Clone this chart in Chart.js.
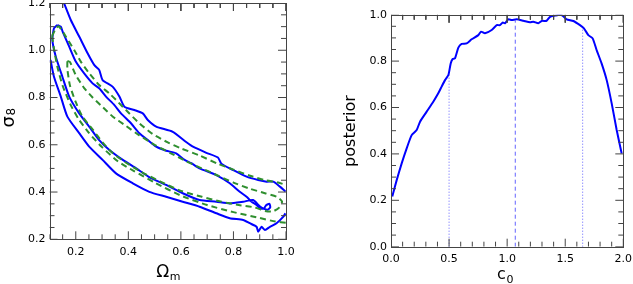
<!DOCTYPE html>
<html>
<head>
<meta charset="UTF-8">
<script src="https://cdn.jsdelivr.net/npm/chart.js"></script>
<style>
  body { margin: 0; background: #fff; }
  #wrap { position: relative; width: 633px; height: 284px; }
  canvas { position: absolute; top: 0; }
  #left { left: 0; }
  #right { left: 320px; }
</style>
</head>
<body>
<div id="wrap">
  <canvas id="left" width="320" height="284"></canvas>
  <canvas id="right" width="313" height="284"></canvas>
</div>
<script>
// left panel: sigma8 vs Omega_m contours
const omTicks = [0.2, 0.4, 0.6, 0.8, 1.0];
const s8Ticks = [0.2, 0.4, 0.6, 0.8, 1.0, 1.2];

const blueOuterUpperX = [0.155, 0.181, 0.213, 0.245, 0.270, 0.289, 0.302, 0.340, 0.366, 0.385, 0.423, 0.455, 0.474, 0.506, 0.569, 0.620, 0.646, 0.697, 0.741, 0.754, 0.799, 0.850, 0.894, 0.926, 0.952, 0.977, 0.998];
const blueOuterUpperY = [1.200, 1.128, 1.058, 0.987, 0.938, 0.917, 0.874, 0.846, 0.804, 0.761, 0.747, 0.733, 0.705, 0.677, 0.655, 0.612, 0.592, 0.566, 0.546, 0.520, 0.493, 0.465, 0.451, 0.444, 0.444, 0.423, 0.402];

const blueOuterLowerX = [0.104, 0.117, 0.143, 0.168, 0.213, 0.251, 0.302, 0.353, 0.417, 0.480, 0.544, 0.607, 0.671, 0.735, 0.786, 0.837, 0.862, 0.888, 0.894, 0.907, 0.920, 0.939, 0.964, 0.990, 0.998];
const blueOuterLowerY = [0.959, 0.888, 0.804, 0.719, 0.649, 0.592, 0.536, 0.479, 0.437, 0.401, 0.380, 0.359, 0.338, 0.310, 0.289, 0.282, 0.268, 0.253, 0.232, 0.253, 0.239, 0.253, 0.268, 0.296, 0.310];

const blueInnerX = [0.130, 0.143, 0.150, 0.175, 0.200, 0.232, 0.264, 0.289, 0.315, 0.347, 0.372, 0.410, 0.442, 0.474, 0.506, 0.544, 0.582, 0.614, 0.640, 0.671, 0.735, 0.786, 0.824, 0.850, 0.869, 0.888, 0.901, 0.915, 0.925, 0.937, 0.940, 0.930, 0.915, 0.900, 0.875, 0.837, 0.786, 0.735, 0.671, 0.607, 0.544, 0.481, 0.430, 0.379, 0.328, 0.289, 0.251, 0.213, 0.175, 0.149, 0.124, 0.111, 0.117, 0.130];
const blueInnerY = [1.107, 1.100, 1.079, 1.015, 0.952, 0.902, 0.860, 0.839, 0.804, 0.768, 0.733, 0.691, 0.649, 0.620, 0.592, 0.575, 0.564, 0.536, 0.522, 0.500, 0.472, 0.437, 0.401, 0.380, 0.359, 0.345, 0.331, 0.330, 0.345, 0.350, 0.335, 0.325, 0.330, 0.340, 0.366, 0.359, 0.352, 0.359, 0.366, 0.395, 0.430, 0.462, 0.500, 0.536, 0.578, 0.620, 0.677, 0.733, 0.804, 0.888, 0.973, 1.043, 1.093, 1.107];

const greenOuterX = [0.110, 0.125, 0.136, 0.162, 0.194, 0.219, 0.251, 0.289, 0.327, 0.353, 0.391, 0.442, 0.493, 0.55, 0.60, 0.67, 0.74, 0.80, 0.86, 0.92, 0.97, 1.0];
const greenOuterY = [1.060, 1.095, 1.101, 1.058, 1.001, 0.952, 0.903, 0.853, 0.818, 0.790, 0.747, 0.691, 0.645, 0.610, 0.585, 0.555, 0.520, 0.495, 0.470, 0.450, 0.440, 0.430];
const greenOuterLowX = [0.110, 0.118, 0.13, 0.15, 0.18, 0.21, 0.25, 0.30, 0.36, 0.42, 0.50, 0.60, 0.70, 0.80, 0.90, 0.96, 1.0];
const greenOuterLowY = [1.060, 1.000, 0.930, 0.850, 0.770, 0.710, 0.650, 0.590, 0.530, 0.490, 0.440, 0.385, 0.345, 0.315, 0.290, 0.275, 0.270];

const greenInnerX = [0.168, 0.178, 0.200, 0.232, 0.264, 0.302, 0.340, 0.391, 0.442, 0.50, 0.56, 0.62, 0.68, 0.74, 0.80, 0.86, 0.92, 0.965, 0.985, 0.975, 0.950, 0.920, 0.880, 0.82, 0.75, 0.68, 0.60, 0.52, 0.45, 0.39, 0.34, 0.302, 0.264, 0.225, 0.200, 0.178, 0.168, 0.168];
const greenInnerY = [0.955, 0.950, 0.895, 0.840, 0.800, 0.760, 0.720, 0.680, 0.640, 0.600, 0.565, 0.530, 0.500, 0.470, 0.440, 0.415, 0.395, 0.380, 0.360, 0.335, 0.318, 0.320, 0.335, 0.345, 0.360, 0.380, 0.405, 0.445, 0.485, 0.525, 0.565, 0.610, 0.665, 0.720, 0.780, 0.850, 0.920, 0.955];

// right panel: posterior of c0
const c0Ticks = [0.0, 0.5, 1.0, 1.5, 2.0];
const postTicks = [0.0, 0.2, 0.4, 0.6, 0.8, 1.0];
const c0 = [0.011, 0.049, 0.092, 0.135, 0.178, 0.221, 0.250, 0.307, 0.364, 0.407, 0.436, 0.465, 0.494, 0.514, 0.531, 0.551, 0.580, 0.608, 0.651, 0.694, 0.752, 0.775, 0.809, 0.867, 0.910, 0.938, 0.961, 0.981, 1.010, 1.039, 1.082, 1.139, 1.197, 1.225, 1.268, 1.297, 1.340, 1.369, 1.412, 1.455, 1.483, 1.512, 1.570, 1.627, 1.661, 1.699, 1.736, 1.770, 1.813, 1.857, 1.900, 1.943, 1.986];
const posterior = [0.216, 0.287, 0.359, 0.424, 0.481, 0.503, 0.539, 0.582, 0.625, 0.661, 0.690, 0.718, 0.740, 0.790, 0.809, 0.812, 0.858, 0.874, 0.876, 0.894, 0.912, 0.927, 0.920, 0.934, 0.955, 0.955, 0.966, 0.963, 0.980, 0.977, 0.980, 0.974, 0.967, 0.970, 0.963, 0.973, 0.974, 0.991, 0.996, 1.000, 0.994, 0.980, 0.973, 0.955, 0.941, 0.912, 0.898, 0.848, 0.790, 0.718, 0.618, 0.503, 0.402];
const markX = [0.5, 1.07, 1.65];
const markTop = [0.752, 0.975, 0.948];
const markDash = [[1, 2], [4, 3], [1, 2]];

const FONT = 'DejaVu Sans';

// frame / minor tick / title settings per canvas (plotW/plotH = plot area in px)
const panelCfg = {
  left: {
    xMin: 0.1, xMax: 1.0, xMinor: 0.05, xMajor: 0.2,
    yMin: 0.2, yMax: 1.2, yMinor: 0.05, yMajor: 0.2,
    plotW: 236.5, plotH: 236.3,
    titles: [
      { main: '\u03A9', sub: 'm', x: 168, y: 277, size: 17, subSize: 11, drop: 3 },
      { main: '\u03C3', sub: '8', x: 14, y: 118, size: 18, subSize: 12, drop: 1, rot: -Math.PI / 2 }
    ]
  },
  right: {
    xMin: 0, xMax: 2.0, xMinor: 0.1, xMajor: 0.5,
    yMin: 0, yMax: 1.0, yMinor: 0.05, yMajor: 0.2,
    plotW: 232.3, plotH: 232,
    titles: [
      { main: 'c', sub: '0', x: 185, y: 279, size: 16, subSize: 11, drop: 4 },
      { main: 'posterior', sub: '', x: 35, y: 131, size: 16, subSize: 11, drop: 0, rot: -Math.PI / 2 }
    ]
  }
};

function pts(xs, ys) {
  return xs.map((v, i) => ({ x: v, y: ys[i] }));
}

function isMajor(v, step) {
  const r = v / step;
  return Math.abs(r - Math.round(r)) < 1e-6;
}

// inward tick marks on all four sides, as line datasets broken by null points
function tickSets(o) {
  const ux = (o.xMax - o.xMin) / o.plotW, uy = (o.yMax - o.yMin) / o.plotH;
  const bottom = [], top = [], left = [], right = [];
  const nx = Math.round((o.xMax - o.xMin) / o.xMinor);
  for (let i = 0; i <= nx; i++) {
    const v = o.xMin + i * o.xMinor;
    const len = isMajor(v, o.xMajor) ? 8 : 5;
    bottom.push({ x: v, y: o.yMin }, { x: v, y: o.yMin + len * uy }, { x: v, y: null });
    top.push({ x: v, y: o.yMax }, { x: v, y: o.yMax - len * uy }, { x: v, y: null });
  }
  const ny = Math.round((o.yMax - o.yMin) / o.yMinor);
  for (let i = 0; i <= ny; i++) {
    const v = o.yMin + i * o.yMinor;
    const len = isMajor(v, o.yMajor) ? 8 : 5;
    left.push({ x: o.xMin, y: v }, { x: o.xMin + len * ux, y: v }, { x: o.xMin, y: null });
    right.push({ x: o.xMax, y: v }, { x: o.xMax - len * ux, y: v }, { x: o.xMax, y: null });
  }
  return [bottom, top, left, right].map(d => ({
    data: d,
    showLine: true,
    spanGaps: false,
    borderColor: '#444',
    borderWidth: 1,
    pointRadius: 0,
    tension: 0
  }));
}

// draws "main" with a subscript, centred on (x, y) baseline, optionally rotated
function subText(ctx, t) {
  ctx.save();
  ctx.translate(t.x, t.y);
  if (t.rot) ctx.rotate(t.rot);
  ctx.fillStyle = '#000';
  ctx.textBaseline = 'alphabetic';
  ctx.textAlign = 'left';
  ctx.font = t.size + 'px "' + FONT + '"';
  const w1 = ctx.measureText(t.main).width;
  ctx.font = t.subSize + 'px "' + FONT + '"';
  const w2 = t.sub ? ctx.measureText(t.sub).width : 0;
  const x0 = -(w1 + w2) / 2;
  ctx.font = t.size + 'px "' + FONT + '"';
  ctx.fillText(t.main, x0, 0);
  if (t.sub) {
    ctx.font = t.subSize + 'px "' + FONT + '"';
    ctx.fillText(t.sub, x0 + w1 + 0.5, t.drop);
  }
  ctx.restore();
}

// plot frame and axis titles
const framePlugin = {
  id: 'frame',
  afterDraw(chart) {
    const o = panelCfg[chart.canvas.id];
    const ctx = chart.ctx;
    const a = chart.chartArea;
    const L = Math.round(a.left), R = Math.round(a.right);
    const T = Math.round(a.top), B = Math.round(a.bottom);
    ctx.save();
    ctx.fillStyle = '#444';
    ctx.fillRect(L, T, R - L + 1, 1);
    ctx.fillRect(L, B, R - L + 1, 1);
    ctx.fillRect(L, T, 1, B - T + 1);
    ctx.fillRect(R, T, 1, B - T + 1);
    ctx.restore();
    o.titles.forEach(t => subText(ctx, t));
  }
};

function scaleOpts(min, max, labels, fixed, isX, pad) {
  return {
    type: 'linear',
    min: min,
    max: max,
    grid: { display: false, drawTicks: false },
    border: { display: false },
    afterBuildTicks: s => { s.ticks = labels.map(v => ({ value: v })); },
    afterFit: s => {
      if (isX) s.height = fixed; else s.width = fixed;
      s.paddingTop = 0; s.paddingBottom = 0; s.paddingLeft = 0; s.paddingRight = 0;
    },
    ticks: {
      padding: pad,
      color: '#000',
      maxRotation: 0,
      autoSkip: false,
      font: { family: FONT, size: 11 },
      callback: v => Number(v).toFixed(1)
    }
  };
}

const BLUE = '#0000ff';
const GREEN = '#2f8f2f';

function curve(xs, ys, color, dash) {
  return {
    data: pts(xs, ys),
    showLine: true,
    borderColor: color,
    borderWidth: 2,
    borderDash: dash || [],
    pointRadius: 0,
    tension: 0.2,
    fill: false
  };
}

new Chart(document.getElementById('left'), {
  type: 'scatter',
  data: {
    datasets: tickSets(panelCfg.left).concat([
      curve(greenOuterX, greenOuterY, GREEN, [6, 4]),
      curve(greenOuterLowX, greenOuterLowY, GREEN, [6, 4]),
      curve(greenInnerX, greenInnerY, GREEN, [6, 4]),
      curve(blueOuterUpperX, blueOuterUpperY, BLUE),
      curve(blueOuterLowerX, blueOuterLowerY, BLUE),
      curve(blueInnerX, blueInnerY, BLUE)
    ])
  },
  options: {
    responsive: false,
    animation: false,
    layout: { padding: { top: 3, right: 34, left: 0, bottom: 0 } },
    plugins: { legend: { display: false }, tooltip: { enabled: false } },
    scales: {
      x: scaleOpts(0.1, 1.0, omTicks, 44.7, true, 6),
      y: scaleOpts(0.2, 1.2, s8Ticks, 49.5, false, 4)
    }
  },
  plugins: [framePlugin]
});

const rightSets = tickSets(panelCfg.right).concat([curve(c0, posterior, BLUE)]);
markX.forEach((v, i) => {
  rightSets.push({
    data: [{ x: v, y: 0 }, { x: v, y: markTop[i] }],
    showLine: true,
    borderColor: 'rgba(70,70,255,0.85)',
    borderWidth: 1,
    borderDash: markDash[i],
    pointRadius: 0
  });
});

new Chart(document.getElementById('right'), {
  type: 'scatter',
  data: { datasets: rightSets },
  options: {
    responsive: false,
    animation: false,
    layout: { padding: { top: 14.7, right: 9.7, left: 0, bottom: 0 } },
    plugins: { legend: { display: false }, tooltip: { enabled: false } },
    scales: {
      x: scaleOpts(0, 2.0, c0Ticks, 37.3, true, 6),
      y: scaleOpts(0, 1.0, postTicks, 71, false, 4)
    }
  },
  plugins: [framePlugin]
});
</script>
</body>
</html>
